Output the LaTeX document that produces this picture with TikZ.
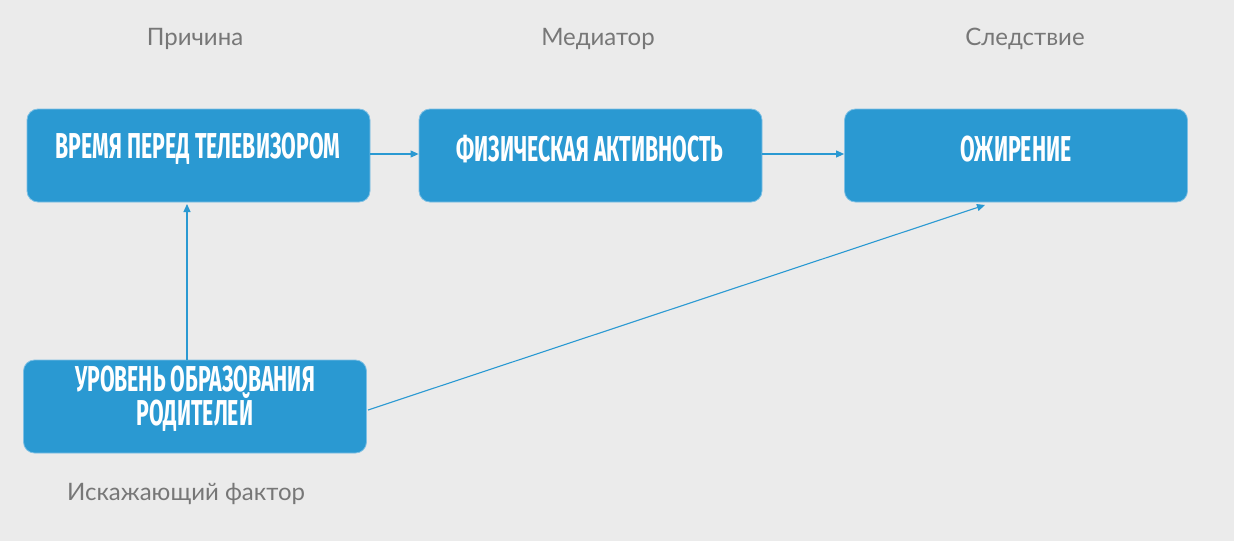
\documentclass[tikz,border=0pt]{standalone}
\usepackage{fontspec}
\setmainfont{Lato}
\newfontfamily\boxfont[FakeStretch=0.59]{Fira Sans Bold}
\newfontfamily\labfont{Lato}
\usetikzlibrary{arrows.meta}
\definecolor{bg}{HTML}{EBEBEB}
\definecolor{boxc}{HTML}{2A99D2}
\definecolor{boxe}{HTML}{7FC0E4}
\definecolor{labc}{HTML}{777777}
\tikzset{
  stepbox/.style={draw=boxe, line width=0.8pt, fill=boxc, rounded corners=11pt, minimum width=343pt, minimum height=93pt, inner sep=0pt},
  boxtext/.style={text=white, font=\boxfont\fontsize{36}{28}\selectfont, align=center, inner sep=0pt},
  lab/.style={text=labc, font=\labfont\fontsize{24}{28}\selectfont, inner sep=0pt},
  conn/.style={draw=boxc, line width=1.1pt, -{Triangle[length=8pt,width=7pt]}}
}
\begin{document}
\begin{tikzpicture}[x=1pt,y=-1pt]
\useasboundingbox[fill=bg] (0,0) rectangle (1234,541);
\node[stepbox] (b1) at (198.5,155.5) {};
\node[stepbox] (b2) at (590.5,155.5) {};
\node[stepbox] (b3) at (1016,155.5) {};
\node[stepbox] (b4) at (195,406.5) {};
\node[boxtext] (t1) at (198,149) {ВРЕМЯ ПЕРЕД ТЕЛЕВИЗОРОМ};
\node[boxtext] (t2) at (590,149) {ФИЗИЧЕСКАЯ АКТИВНОСТЬ};
\node[boxtext] (t3) at (1016,149) {ОЖИРЕНИЕ};
\node[boxtext] (t4) at (195,399) {УРОВЕНЬ ОБРАЗОВАНИЯ\\[-1pt]РОДИТЕЛЕЙ};
\node[lab] (l1) at (195,39) {Причина};
\node[lab] (l2) at (598,39) {Медиатор};
\node[lab] (l3) at (1025,39) {Следствие};
\node[lab] (l4) at (186,494) {Искажающий фактор};
\coordinate (a1) at (b1.east |- 0,154);
\coordinate (a2) at (b2.west |- 0,154);
\coordinate (a3) at (b2.east |- 0,154);
\coordinate (a4) at (b3.west |- 0,154);
\coordinate (v1) at (187,360);
\coordinate (v2) at (187,204);
\coordinate (d1) at (368,410);
\coordinate (d2) at (985,205);
\draw[conn] (a1) -- (a2);
\draw[conn] (a3) -- (a4);
\draw[conn] (v1) -- (v2);
\draw[conn] (d1) -- (d2);
\end{tikzpicture}
\end{document}
